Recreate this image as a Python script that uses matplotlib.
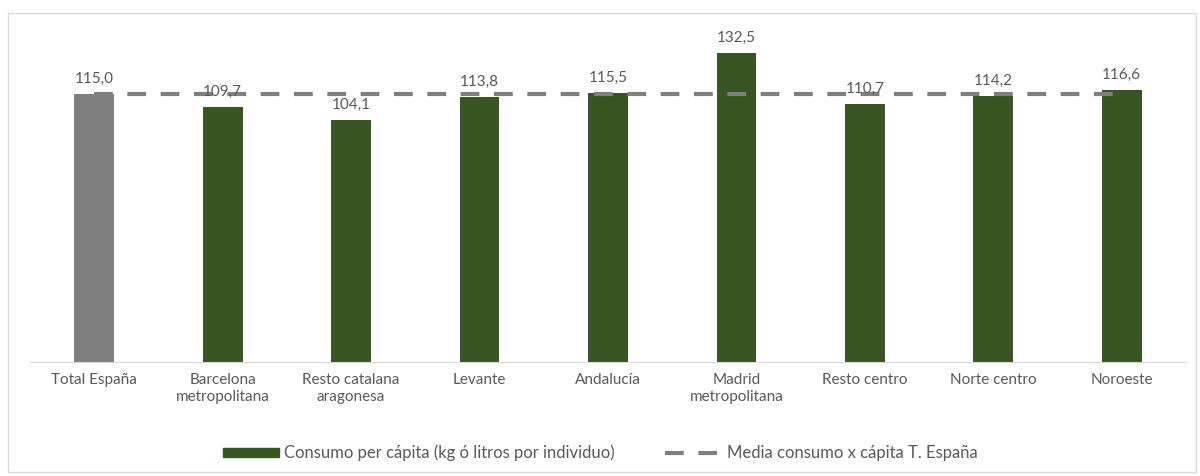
import matplotlib.pyplot as plt
from matplotlib.patches import Rectangle

plt.rcParams['font.family'] = ['Lato', 'DejaVu Sans']

categories = ["Total España", "Barcelona\nmetropolitana", "Resto catalana\naragonesa",
              "Levante", "Andalucía", "Madrid\nmetropolitana", "Resto centro",
              "Norte centro", "Noroeste"]
consumo = [115.0, 109.7, 104.1, 113.8, 115.5, 132.5, 110.7, 114.2, 116.6]
media = [115.0] * len(categories)

green = "#375623"
grey_bar = "#7f7f7f"
text_c = "#595959"

fig = plt.figure(figsize=(12, 4.76), dpi=100)
ax = fig.add_axes([30 / 1200, 1 - 362 / 476, 1156 / 1200, 326 / 476])

x = list(range(len(categories)))
colors = [grey_bar] + [green] * (len(categories) - 1)
ax.bar(x, consumo, width=0.31, color=colors, zorder=2)
ax.plot(x, media, color="#7f7f7f", lw=3, dashes=(4.5, 3.5), zorder=3)
for xi, v in zip(x, consumo):
    ax.text(xi, v + 3.5, f"{v:.1f}".replace(".", ","), ha="center", va="bottom",
            fontsize=11, color=text_c, zorder=4)

ax.set_xlim(-0.5, len(categories) - 0.5)
ax.set_ylim(0, 140)
ax.set_yticks([])
ax.set_xticks(x)
ax.set_xticklabels(categories, fontsize=11, color=text_c, linespacing=1.3)
ax.tick_params(axis="x", length=0, pad=8)
for s in ["top", "right", "left"]:
    ax.spines[s].set_visible(False)
ax.spines["bottom"].set_color("#d9d9d9")

h_bar = Rectangle((0, 0), 1, 1, color=green)
h_line = plt.Line2D([], [], color="#7f7f7f", lw=3, dashes=(4.5, 3.5))
fig.legend([h_bar, h_line],
           ["Consumo per cápita (kg ó litros por individuo)", "Media consumo x cápita T. España"],
           loc="center", bbox_to_anchor=(0.5, 1 - 453 / 476), ncol=2, frameon=False,
           fontsize=12, labelcolor=text_c, handlelength=3.4, handleheight=0.45,
           columnspacing=3.0, handletextpad=0.3)

fig.patches.append(Rectangle((8 / 1200, 4 / 476), 1188 / 1200, 459 / 476,
                             transform=fig.transFigure, fill=False,
                             edgecolor="#d9d9d9", lw=1))

fig.savefig("out.png", dpi=100, facecolor="white")
